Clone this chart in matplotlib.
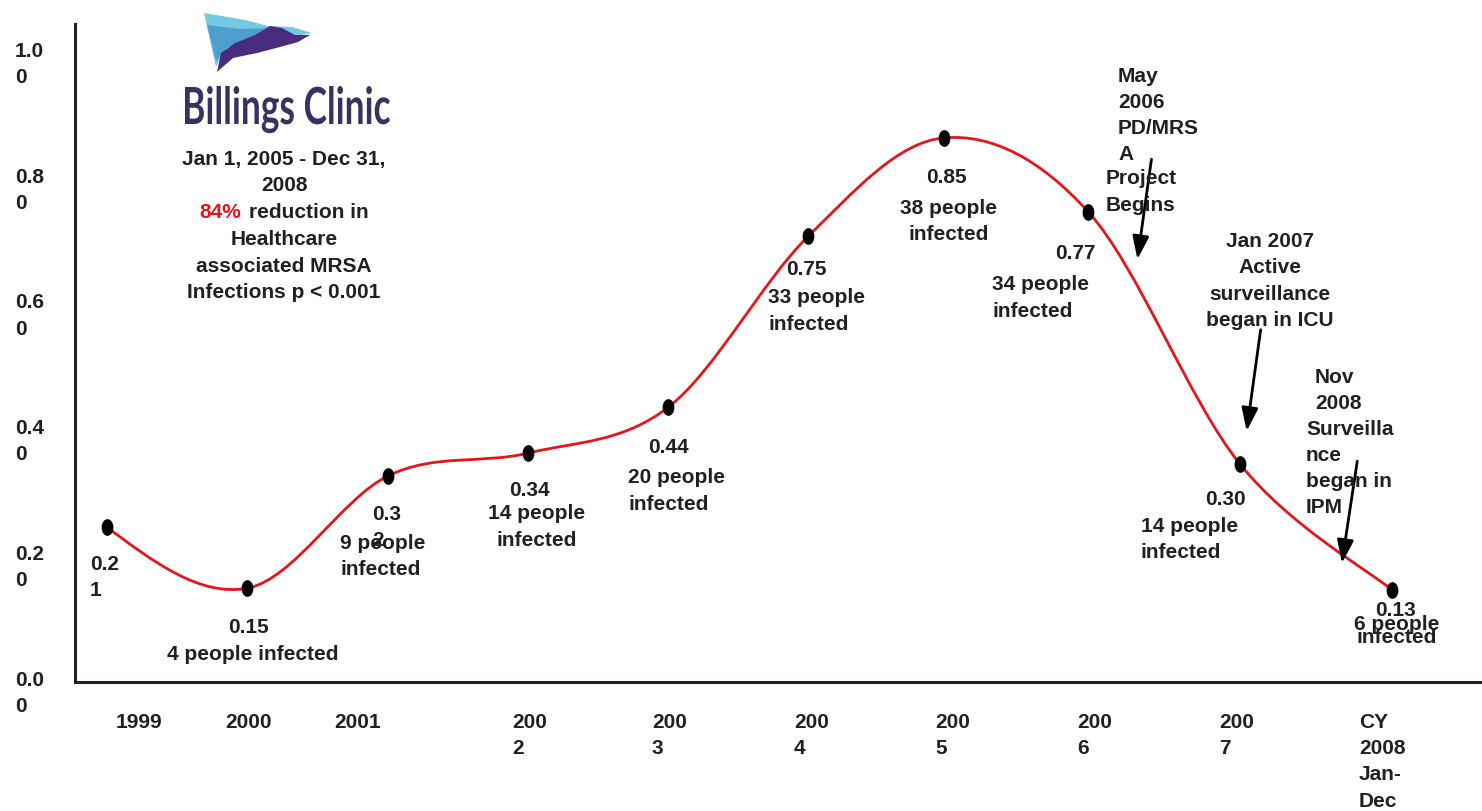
import numpy as np
import matplotlib
matplotlib.use("Agg")
import matplotlib.pyplot as plt
from matplotlib.path import Path
from matplotlib.patches import PathPatch, Polygon
from matplotlib.textpath import TextPath
from matplotlib.font_manager import FontProperties
from matplotlib.transforms import Affine2D

# --- data ---
years = [1999, 2000, 2001, 2002, 2003, 2004, 2005, 2006, 2007, 2008]
x_pos = [1999.0, 2000.0, 2001.01, 2002.01, 2003.01, 2004.01, 2004.98, 2006.01, 2007.09, 2008.18]
curve_y = [0.246, 0.149, 0.328, 0.364, 0.437, 0.709, 0.865, 0.747, 0.347, 0.146]
rate_labels = ["0.2\n1", "0.15", "0.3\n2", "0.34", "0.44", "0.75", "0.85", "0.77", "0.30", "0.13"]
infected = [None, 4, 9, 14, 20, 33, 38, 34, 14, 6]
xtick_labels = ["1999", "2000", "2001", "200\n2", "200\n3", "200\n4", "200\n5",
                "200\n6", "200\n7", "CY\n2008\nJan-\nDec"]
ytick_vals = [0.0, 0.2, 0.4, 0.6, 0.8, 1.0]
ytick_labels = ["0.0\n0", "0.2\n0", "0.4\n0", "0.6\n0", "0.8\n0", "1.0\n0"]

# milestone arrows (tail -> tip, year / rate units)
arrow_tail = [(2006.46, 0.831), (2007.24, 0.560), (2007.93, 0.351)]
arrow_tip = [(2006.36, 0.672), (2007.14, 0.399), (2007.82, 0.189)]

W, H = 1482, 812
TXT = "#231F20"
RED = "#E3161E"
LS = 1.48
plt.rcParams["font.family"] = ["Liberation Sans", "DejaVu Sans"]
plt.rcParams["font.weight"] = "bold"

fig = plt.figure(figsize=(W / 100, H / 100), dpi=100)
ax = fig.add_axes([75 / W, (H - 683) / H, (W - 75) / W, (683 - 25) / H])
ax.set_xlim(1998.771, 2008.821)
ax.set_ylim(0, 1.046)
for s in ["top", "right"]:
    ax.spines[s].set_visible(False)
for s in ["left", "bottom"]:
    ax.spines[s].set_linewidth(2.2)
    ax.spines[s].set_color(TXT)
ax.set_xticks([])
ax.set_yticks([])


def ftext(x, y, s, **kw):
    kw.setdefault("fontsize", 15)
    kw.setdefault("color", TXT)
    kw.setdefault("fontweight", "bold")
    kw.setdefault("linespacing", LS)
    return fig.text(x / W, 1 - y / H, s, **kw)


# smoothed line (bezier through the points, natural start)
pts = np.column_stack([x_pos, curve_y])
n = len(pts)
tang = [(pts[min(i + 1, n - 1)] - pts[max(i - 1, 0)]) / 2 for i in range(n)]
tang[0] = (3 * (pts[1] - pts[0]) - tang[1]) / 2
verts = [pts[0]]
codes = [Path.MOVETO]
for i in range(n - 1):
    c1 = pts[i] + tang[i] / 3
    c2 = pts[i + 1] - tang[i + 1] / 3
    verts += [c1, c2, pts[i + 1]]
    codes += [Path.CURVE4] * 3
ax.add_patch(PathPatch(Path(verts, codes), fill=False, edgecolor=RED, lw=2.0, zorder=3))

oval = Path.unit_circle().transformed(Affine2D().scale(0.68, 1.0))
ax.plot(x_pos, curve_y, linestyle="none", marker=oval, ms=11, color="black", zorder=4)

# point labels
rate_style = [(-17, -49, "left"), (1, -38, "center"), (-16, -51, "left"), (1, -36, "center"),
              (0, -39, "center"), (-22, -33, "left"), (2, -39, "center"), (-33, -40, "left"),
              (-14, -35, "center"), (3, -19, "center")]
people_style = [None, (6, -65, "center"), (-48, -80, "left"), (8, -73, "center"),
                (-40, -83, "left"), (-40, -74, "left"), (4, -83, "center"), (-96, -85, "left"),
                (-99, -75, "left"), (4, -40, "center")]

for i in range(n):
    dx, dy, ha = rate_style[i]
    ax.annotate(rate_labels[i], (x_pos[i], curve_y[i]), xytext=(dx, dy),
                textcoords="offset pixels", ha=ha, va="center", fontsize=15,
                fontweight="bold", color=TXT, linespacing=LS, zorder=5)
    if infected[i] is None:
        continue
    if i == 1:
        txt = f"{infected[i]} people infected"
    else:
        txt = f"{infected[i]} people\ninfected"
    dx, dy, ha = people_style[i]
    ax.annotate(txt, (x_pos[i], curve_y[i]), xytext=(dx, dy),
                textcoords="offset pixels", ha=ha, va="center", multialignment=ha,
                fontsize=15, fontweight="bold", color=TXT,
                linespacing=0.6 if i == n - 1 else LS, zorder=5)

# y tick labels
for v, lab in zip(ytick_vals, ytick_labels):
    ax.annotate(lab, (0, v), xycoords=("axes fraction", "data"), xytext=(-60, -10.5),
                textcoords="offset pixels", ha="left", va="center", fontsize=15,
                fontweight="bold", color=TXT, linespacing=LS, annotation_clip=False)

# x tick labels
xlabel_px = [139, 249, 358, 512, 652, 794, 935, 1077, 1219, 1359]
for i, lab in enumerate(xtick_labels):
    ftext(xlabel_px[i], 713, lab, ha="center" if i < 3 else "left", va="top")

# arrows
for tail, tip in zip(arrow_tail, arrow_tip):
    ax.annotate("", xy=tip, xytext=tail,
                arrowprops=dict(arrowstyle="-|>,head_length=0.7,head_width=0.25",
                                mutation_scale=20, color="black", lw=2,
                                shrinkA=0, shrinkB=0),
                zorder=6)

# milestone notes
ftext(1118, 115.5, "May\n2006\nPD/MRS\nA", ha="left", va="center")
ftext(1106, 192, "Project\nBegins", ha="left", va="center")
ftext(1270, 281, "Jan 2007\nActive\nsurveillance\nbegan in ICU", ha="center", va="center")
ftext(1315, 390.5, "Nov\n2008", ha="left", va="center")
ftext(1306, 468.5, "Surveilla\nnce\nbegan in\nIPM", ha="left", va="center")

# summary block
ftext(284, 172.5, "Jan 1, 2005 - Dec 31,\n2008", ha="center", va="center")
ftext(199, 212, "84%", ha="left", va="center", color=RED)
ftext(249, 212, "reduction in", ha="left", va="center")
ftext(284, 266, "Healthcare\nassociated MRSA\nInfections p < 0.001", ha="center", va="center")

# logo: wing shape + name
pix = Affine2D().scale(1 / 100.0) + fig.dpi_scale_trans


def poly(points, color):
    p = [(x, H - y) for x, y in points]
    fig.add_artist(Polygon(p, closed=True, facecolor=color, edgecolor="none", transform=pix))


poly([(204, 14), (245, 21), (268, 27), (292, 28), (312, 34), (290, 38), (260, 38),
      (225, 50), (216, 68)], "#74C8E2")
poly([(207, 26), (240, 30), (268, 29), (255, 38), (228, 48), (216, 62)], "#4E9FD0")
poly([(217, 73), (221, 54), (235, 44), (255, 36), (270, 27), (282, 29), (295, 36),
      (310, 36), (298, 43), (280, 48), (257, 54), (233, 59)], "#4A2C7E")

fp = FontProperties(family="Lato", weight="bold")
name_path = TextPath((0, 0), "Billings Clinic", size=100, prop=fp)
cap = TextPath((0, 0), "B", size=100, prop=fp).get_extents()
bb = name_path.get_extents()
sx = 205 / bb.width
sy = 37 / cap.height
name_tr = Affine2D().translate(-bb.x0, 0).scale(sx, sy).translate(185, H - 125) + pix
fig.add_artist(PathPatch(name_path, facecolor="#3B3160", edgecolor="none", transform=name_tr))

fig.savefig("out.png", dpi=100)
